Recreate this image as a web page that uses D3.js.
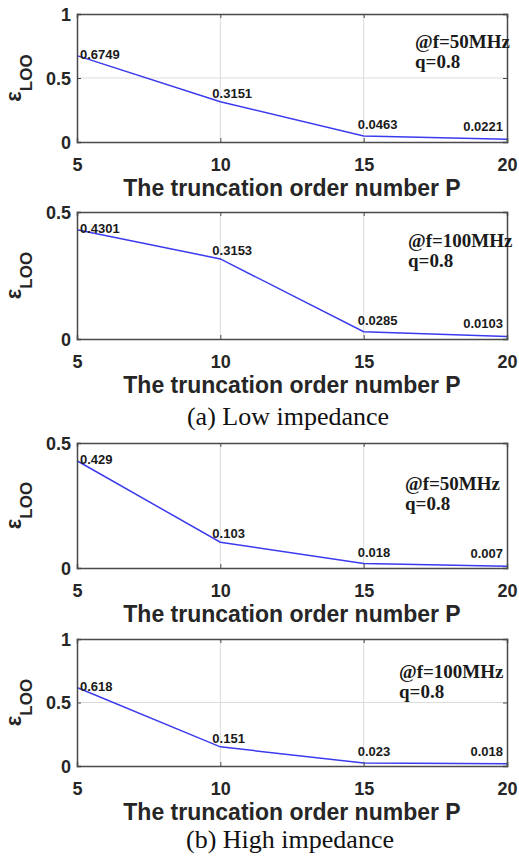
<!DOCTYPE html>
<html>
<head>
<meta charset="utf-8">
<script src="https://cdn.jsdelivr.net/npm/d3@7"></script>
<style>
  html, body { margin: 0; padding: 0; background: #fff; }
  svg { display: block; }
</style>
</head>
<body>
<svg id="chart" width="519" height="859"></svg>
<script>
// Leave-one-out error versus truncation order P
const orders = [5, 10, 15, 20];
const lowZ50MHz = [0.6749, 0.3151, 0.0463, 0.0221];
const lowZ100MHz = [0.4301, 0.3153, 0.0285, 0.0103];
const highZ50MHz = [0.429, 0.103, 0.018, 0.007];
const highZ100MHz = [0.618, 0.151, 0.023, 0.018];
const yTicksFull = [0, 0.5, 1];
const yTicksHalf = [0, 0.5];
const xTicks = [5, 10, 15, 20];
const freqNotes = ["@f=50MHz", "@f=100MHz", "@f=50MHz", "@f=100MHz"];
const qNote = "q=0.8";
const xTitle = "The truncation order number P";
const captions = ["(a) Low impedance", "(b) High impedance"];

// Panel layout (pixels)
const left = 77, right = 507;
const panels = [
  { values: lowZ50MHz,  yMax: 1,   ticks: yTicksFull, note: freqNotes[0], top: 14,  bottom: 142, noteX: 415, noteY: 34 },
  { values: lowZ100MHz, yMax: 0.5, ticks: yTicksHalf, note: freqNotes[1], top: 212, bottom: 339, noteX: 408, noteY: 35 },
  { values: highZ50MHz, yMax: 0.5, ticks: yTicksHalf, note: freqNotes[2], top: 443, bottom: 568, noteX: 405, noteY: 47 },
  { values: highZ100MHz, yMax: 1,  ticks: yTicksFull, note: freqNotes[3], top: 639, bottom: 766, noteX: 399, noteY: 39 }
];
const captionPos = [{ x: 288, y: 425 }, { x: 290, y: 848 }];

const svg = d3.select("#chart");
const sans = "'Liberation Sans', Arial, Helvetica, sans-serif";
const serif = "'Liberation Serif', 'Times New Roman', serif";
const ink = "#262626";

const x = d3.scaleLinear().domain([5, 20]).range([left, right]);

panels.forEach(p => {
  const y = d3.scaleLinear().domain([0, p.yMax]).range([p.bottom, p.top]);
  const g = svg.append("g");

  // grid
  g.selectAll(".vgrid").data(xTicks.filter(t => t > 5 && t < 20)).enter()
    .append("line")
    .attr("x1", d => x(d)).attr("x2", d => x(d))
    .attr("y1", p.top).attr("y2", p.bottom)
    .attr("stroke", "#dcdcdc").attr("stroke-width", 1);
  g.selectAll(".hgrid").data(p.ticks.filter(t => t > 0 && t < p.yMax)).enter()
    .append("line")
    .attr("x1", left).attr("x2", right)
    .attr("y1", d => y(d)).attr("y2", d => y(d))
    .attr("stroke", "#dcdcdc").attr("stroke-width", 1);

  // data line
  const pts = orders.map((o, i) => [o, p.values[i]]);
  g.append("path")
    .datum(pts)
    .attr("fill", "none")
    .attr("stroke", "#3a3aee")
    .attr("stroke-width", 1.5)
    .attr("d", d3.line().x(d => x(d[0])).y(d => y(d[1])));

  // axes: bottom / left with labels, top / right mirrored
  const axB = g.append("g").attr("transform", `translate(0,${p.bottom})`)
    .call(d3.axisBottom(x).tickValues(xTicks).tickSize(-4).tickPadding(0).tickFormat(d3.format("d")));
  const axL = g.append("g").attr("transform", `translate(${left},0)`)
    .call(d3.axisLeft(y).tickValues(p.ticks).tickSize(-4).tickPadding(6).tickFormat(d => d === 0.5 ? "0.5" : d3.format("d")(d)));
  const axT = g.append("g").attr("transform", `translate(0,${p.top})`)
    .call(d3.axisTop(x).tickValues(xTicks).tickSize(-4).tickFormat(""));
  const axR = g.append("g").attr("transform", `translate(${right},0)`)
    .call(d3.axisRight(y).tickValues(p.ticks).tickSize(-4).tickFormat(""));

  [axB, axL, axT, axR].forEach(a => {
    a.select(".domain").attr("stroke", "#4a4a4a").attr("stroke-width", 1.5);
    a.selectAll(".tick line").attr("stroke", "#4a4a4a").attr("stroke-width", 1);
  });
  axB.selectAll(".tick text")
    .attr("y", 29).attr("dy", null)
    .attr("font-family", sans).attr("font-size", 18).attr("font-weight", "bold").attr("fill", ink);
  axL.selectAll(".tick text")
    .attr("dy", "0.35em")
    .attr("font-family", sans).attr("font-size", 18).attr("font-weight", "bold").attr("fill", ink);

  // x title
  g.append("text")
    .attr("x", (left + right) / 2).attr("y", p.bottom + 54)
    .attr("text-anchor", "middle")
    .attr("font-family", sans).attr("font-size", 23).attr("font-weight", "bold").attr("fill", ink)
    .text(xTitle);

  // y title: epsilon with LOO subscript
  const yt = g.append("text")
    .attr("transform", `translate(21,${(p.top + p.bottom) / 2}) rotate(-90)`)
    .attr("text-anchor", "middle")
    .attr("font-family", sans).attr("font-weight", "bold").attr("fill", ink);
  yt.append("tspan").attr("font-size", 22).text("ε");
  yt.append("tspan").attr("font-size", 17).attr("dy", 11).text("LOO");

  // value labels
  g.selectAll(".val").data(pts).enter()
    .append("text")
    .attr("x", (d, i) => i === 0 ? x(d[0]) + 3 : i === 3 ? x(d[0]) - 4 : x(d[0]) - (i === 1 ? 8 : 6))
    .attr("y", (d, i) => i === 0 ? y(d[1]) + 3 : i === 3 ? y(d[1]) - 8 : y(d[1]) - (i === 1 ? 4 : 7))
    .attr("text-anchor", (d, i) => i === 3 ? "end" : "start")
    .attr("font-family", sans).attr("font-size", 13).attr("font-weight", "bold").attr("fill", "#1a1a1a")
    .text(d => String(d[1]));

  // frequency / q annotation
  g.append("text")
    .attr("x", p.noteX).attr("y", p.top + p.noteY)
    .attr("font-family", serif).attr("font-size", 19).attr("font-weight", "bold").attr("fill", "#1a1a1a")
    .text(p.note);
  g.append("text")
    .attr("x", p.noteX).attr("y", p.top + p.noteY + 20)
    .attr("font-family", serif).attr("font-size", 19).attr("font-weight", "bold").attr("fill", "#1a1a1a")
    .text(qNote);
});

// sub-figure captions
svg.selectAll(".caption").data(captions).enter()
  .append("text")
  .attr("x", (d, i) => captionPos[i].x).attr("y", (d, i) => captionPos[i].y)
  .attr("text-anchor", "middle")
  .attr("font-family", serif).attr("font-size", 26).attr("fill", "#111")
  .text(d => d);
</script>
</body>
</html>
